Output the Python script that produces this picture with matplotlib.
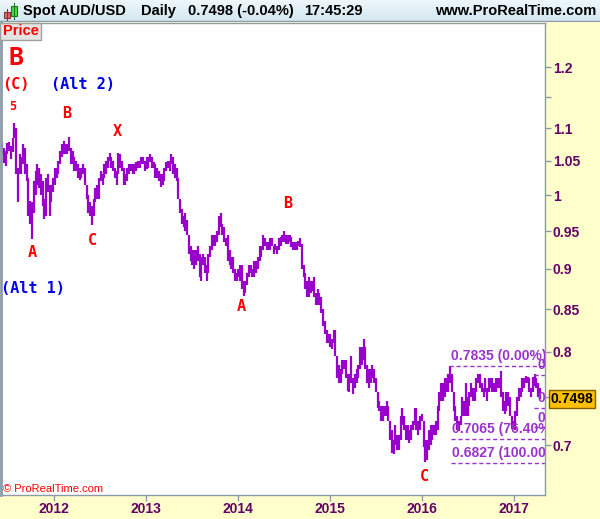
import numpy as np
import pandas as pd
import matplotlib
matplotlib.use("Agg")
import matplotlib.pyplot as plt
from matplotlib.patches import Rectangle
from matplotlib.ticker import FixedLocator, FixedFormatter, NullLocator

# weekly high / low of spot AUD/USD (week ending Friday)
hi_2011 = [1.0775, 1.0700, 1.0650, 1.0765, 1.0780, 1.0720, 1.0850, 1.1080,
           1.1000, 1.0400, 1.0600, 1.0550, 1.0760, 1.0700, 1.0450, 1.0250, 0.9920,
           0.9900, 1.0200, 1.0350, 1.0450, 1.0400, 1.0300, 1.0200, 0.9950,
           1.0250, 1.0300, 1.0150, 1.0150, 1.0250]
lo_2011 = [1.0580, 1.0460, 1.0420, 1.0600, 1.0650, 1.0520, 1.0640, 1.0850,
           1.0300, 0.9900, 1.0300, 1.0300, 1.0450, 1.0300, 1.0200, 0.9700, 0.9600,
           0.9390, 0.9750, 1.0000, 1.0150, 1.0100, 1.0000, 0.9850, 0.9660,
           0.9700, 1.0050, 0.9700, 0.9900, 1.0050]

hi_2012 = [1.0400, 1.0400, 1.0500, 1.0650, 1.0750, 1.0800, 1.0750, 1.0750,
           1.0860, 1.0700, 1.0650, 1.0550, 1.0500, 1.0450, 1.0400, 1.0400, 1.0450,
           1.0400, 1.0150, 1.0000, 0.9900, 0.9850, 0.9950, 1.0100, 1.0150, 1.0250,
           1.0350, 1.0300, 1.0450, 1.0500, 1.0550, 1.0620, 1.0550, 1.0500, 1.0400,
           1.0350, 1.0620, 1.0600, 1.0500, 1.0400, 1.0300, 1.0400, 1.0450,
           1.0450, 1.0450, 1.0450, 1.0480, 1.0500, 1.0500, 1.0550, 1.0550, 1.0500]
lo_2012 = [1.0150, 1.0250, 1.0300, 1.0450, 1.0550, 1.0600, 1.0600, 1.0600,
           1.0650, 1.0450, 1.0450, 1.0350, 1.0350, 1.0250, 1.0220, 1.0250, 1.0300,
           1.0150, 0.9950, 0.9750, 0.9700, 0.9580, 0.9700, 0.9900, 0.9950, 0.9950,
           1.0200, 1.0150, 1.0250, 1.0300, 1.0400, 1.0500, 1.0400, 1.0350, 1.0250,
           1.0150, 1.0300, 1.0400, 1.0350, 1.0150, 1.0150, 1.0200, 1.0300,
           1.0350, 1.0300, 1.0300, 1.0350, 1.0400, 1.0400, 1.0450, 1.0450, 1.0350]

hi_2013 = [1.0550, 1.0550, 1.0600, 1.0550, 1.0480, 1.0450, 1.0400, 1.0350,
           1.0300, 1.0300, 1.0400, 1.0480, 1.0500, 1.0500, 1.0600, 1.0550, 1.0450,
           1.0400, 1.0250, 0.9950, 0.9800, 0.9700, 0.9750, 0.9650, 0.9450, 0.9300,
           0.9250, 0.9250, 0.9250, 0.9300, 0.9200, 0.9150, 0.9200, 0.9150, 0.9050,
           0.9200, 0.9300, 0.9450, 0.9450, 0.9450, 0.9500, 0.9700, 0.9750,
           0.9600, 0.9550, 0.9400, 0.9450, 0.9250, 0.9150, 0.9150, 0.9000, 0.8950]
lo_2013 = [1.0380, 1.0400, 1.0480, 1.0400, 1.0400, 1.0250, 1.0250, 1.0200,
           1.0120, 1.0150, 1.0200, 1.0350, 1.0400, 1.0350, 1.0450, 1.0300, 1.0250,
           1.0200, 0.9950, 0.9750, 0.9600, 0.9550, 0.9500, 0.9450, 0.9200, 0.9100,
           0.9050, 0.9000, 0.9050, 0.9100, 0.8900, 0.8850, 0.9050, 0.8950, 0.8850,
           0.8950, 0.9150, 0.9250, 0.9300, 0.9300, 0.9350, 0.9450, 0.9550,
           0.9450, 0.9350, 0.9300, 0.9100, 0.9050, 0.9000, 0.8950, 0.8850, 0.8850]

hi_2014 = [0.9000, 0.9050, 0.9050, 0.8850, 0.8850, 0.8950, 0.9050, 0.9050,
           0.9000, 0.9100, 0.9100, 0.9150, 0.9300, 0.9300, 0.9450, 0.9400, 0.9350,
           0.9350, 0.9400, 0.9400, 0.9300, 0.9330, 0.9300, 0.9400, 0.9420, 0.9450,
           0.9500, 0.9450, 0.9450, 0.9450, 0.9420, 0.9350, 0.9350, 0.9350, 0.9370,
           0.9400, 0.9330, 0.9050, 0.8950, 0.8850, 0.8900, 0.8850, 0.8850, 0.8900,
           0.8700, 0.8750, 0.8700, 0.8650, 0.8500, 0.8350, 0.8250, 0.8200]
lo_2014 = [0.8900, 0.8850, 0.8750, 0.8660, 0.8700, 0.8800, 0.8900, 0.8950,
           0.8900, 0.8900, 0.8950, 0.9000, 0.9100, 0.9150, 0.9250, 0.9300, 0.9250,
           0.9250, 0.9250, 0.9300, 0.9200, 0.9250, 0.9200, 0.9250, 0.9300, 0.9350,
           0.9350, 0.9330, 0.9330, 0.9350, 0.9280, 0.9250, 0.9250, 0.9250, 0.9300,
           0.9280, 0.9000, 0.8900, 0.8750, 0.8650, 0.8650, 0.8700, 0.8720, 0.8650,
           0.8550, 0.8550, 0.8550, 0.8450, 0.8300, 0.8200, 0.8100, 0.8100]

hi_2015 = [0.8200, 0.8150, 0.8250, 0.8250, 0.7950, 0.7850, 0.7800, 0.7900,
           0.7900, 0.7900, 0.7750, 0.7750, 0.7950, 0.7700, 0.7750, 0.7800, 0.7850,
           0.8050, 0.8050, 0.8150, 0.8050, 0.7850, 0.7800, 0.7800, 0.7850, 0.7800,
           0.7700, 0.7550, 0.7450, 0.7400, 0.7400, 0.7400, 0.7450, 0.7400, 0.7250,
           0.7150, 0.7050, 0.7200, 0.7100, 0.7100, 0.7300, 0.7380, 0.7300, 0.7200,
           0.7200, 0.7150, 0.7200, 0.7250, 0.7380, 0.7380, 0.7250, 0.7300]
lo_2015 = [0.8050, 0.8030, 0.8100, 0.7950, 0.7700, 0.7650, 0.7650, 0.7750,
           0.7800, 0.7700, 0.7560, 0.7550, 0.7650, 0.7530, 0.7600, 0.7650, 0.7700,
           0.7800, 0.7850, 0.7900, 0.7800, 0.7650, 0.7600, 0.7650, 0.7700, 0.7650,
           0.7550, 0.7380, 0.7350, 0.7250, 0.7250, 0.7300, 0.7300, 0.7250, 0.7050,
           0.6920, 0.6910, 0.7000, 0.6950, 0.6950, 0.7050, 0.7200, 0.7150, 0.7050,
           0.7050, 0.7020, 0.7050, 0.7150, 0.7200, 0.7150, 0.7100, 0.7150]

hi_2016 = [0.7320, 0.7250, 0.7050, 0.7050, 0.7150, 0.7200, 0.7200, 0.7200,
           0.7250, 0.7400, 0.7550, 0.7650, 0.7650, 0.7700, 0.7700, 0.7750, 0.7835,
           0.7750, 0.7550, 0.7400, 0.7300, 0.7250, 0.7300, 0.7500, 0.7450, 0.7650,
           0.7500, 0.7550, 0.7650, 0.7600, 0.7600, 0.7700, 0.7750, 0.7750, 0.7650,
           0.7600, 0.7700, 0.7600, 0.7700, 0.7700, 0.7700, 0.7650, 0.7700, 0.7700,
           0.7700, 0.7780, 0.7550, 0.7450, 0.7550, 0.7550, 0.7500, 0.7300, 0.7250]
lo_2016 = [0.7250, 0.6980, 0.6830, 0.6850, 0.6950, 0.7000, 0.7050, 0.7100,
           0.7100, 0.7150, 0.7350, 0.7450, 0.7450, 0.7500, 0.7550, 0.7550, 0.7650,
           0.7550, 0.7350, 0.7250, 0.7150, 0.7145, 0.7200, 0.7300, 0.7300, 0.7300,
           0.7300, 0.7400, 0.7500, 0.7450, 0.7450, 0.7550, 0.7650, 0.7600, 0.7550,
           0.7500, 0.7550, 0.7450, 0.7550, 0.7600, 0.7550, 0.7550, 0.7550, 0.7600,
           0.7600, 0.7500, 0.7350, 0.7320, 0.7350, 0.7400, 0.7300, 0.7160, 0.7160]

hi_2017 = [0.7350, 0.7500, 0.7600, 0.7600, 0.7700, 0.7700, 0.7730, 0.7720,
           0.7700, 0.7600, 0.7720, 0.7750, 0.7700, 0.7650, 0.7600]
lo_2017 = [0.7150, 0.7300, 0.7450, 0.7500, 0.7550, 0.7600, 0.7650, 0.7650,
           0.7550, 0.7500, 0.7550, 0.7620, 0.7600, 0.7500, 0.7480]

highs = hi_2011 + hi_2012 + hi_2013 + hi_2014 + hi_2015 + hi_2016 + hi_2017
lows = lo_2011 + lo_2012 + lo_2013 + lo_2014 + lo_2015 + lo_2016 + lo_2017
dates = pd.date_range("2011-06-10", periods=len(highs), freq="W-FRI")

last_price = "0.7498"
years = [2012, 2013, 2014, 2015, 2016, 2017]
ytick_vals = [1.2, 1.15, 1.1, 1.05, 1.0, 0.95, 0.9, 0.85, 0.8, 0.75, 0.7]
ytick_txt = ["1.2", "", "1.1", "1.05", "1", "0.95", "0.9", "0.85", "0.8", "", "0.7"]

# fibonacci retracement levels (labels are cut by the right edge, as on the chart)
fib_levels = [0.7835, 0.7065, 0.6827]
fib_txt = ["0.7835 (0.00%)", "0.7065 (76.40%", "0.6827 (100.00"]
fib_start = ["2016-04-19", "2016-04-24", "2016-04-24"]
fib2_levels = [0.7735, 0.7380, 0.7180]
fib2_txt = ["0", "0.", "0."]
fib2_start = "2017-03-20"

# elliott wave labels: text, date, price, colour, size
wave_txt = ["B", "(C)", "5", "(Alt 2)", "B", "X", "A", "C", "(Alt 1)", "B", "A", "C"]
wave_date = ["2011-08-04", "2011-08-04", "2011-07-24", "2012-04-26", "2012-02-23",
             "2012-09-08", "2011-10-07", "2012-06-01", "2011-10-09", "2014-07-16",
             "2014-01-14", "2016-01-12"]
wave_price = [1.216, 1.170, 1.135, 1.1715, 1.124, 1.0956, 0.9219, 0.9378, 0.8757,
              0.9887, 0.8536, 0.6698]
wave_col = ["#FF0000", "#FF0000", "#FF0000", "#0000EE", "#FF0000", "#FF0000",
            "#FF0000", "#FF0000", "#0000EE", "#FF0000", "#FF0000", "#FF0000"]
wave_size = [18, 11, 8.5, 11, 11, 11, 11, 11, 11, 11, 11, 11]

PURPLE = "#9900CC"
FIBCOL = "#9933CC"
TXTCOL = "#660066"
GREY = "#8C9BAA"

W, H = 600, 519
fig = plt.figure(figsize=(6, 5.19), dpi=100, facecolor="#FFFFCC")

def fx(px):
    return px / W

def fy(py):
    return 1 - py / H

ax = fig.add_axes([fx(1), fy(495), fx(545) - fx(1), fy(23) - fy(495)])
ax.set_facecolor("white")
ax.set_yscale("log")

ax.vlines(dates, lows, highs, color=PURPLE, lw=1.6)

ax.set_ylim(0.652, 1.278)
ax.set_xlim(pd.Timestamp("2011-06-06"), pd.Timestamp("2017-05-04"))

# right price axis
ax.yaxis.tick_right()
ax.yaxis.set_major_locator(FixedLocator(ytick_vals))
ax.yaxis.set_major_formatter(FixedFormatter(ytick_txt))
ax.yaxis.set_minor_locator(NullLocator())
ax.tick_params(axis="y", direction="out", length=4.5, width=1, color=GREY,
               labelcolor=TXTCOL, labelsize=10, pad=1)

# time axis
ax.set_xticks([pd.Timestamp(f"{y}-01-01") for y in years])
ax.set_xticklabels([str(y) for y in years])
ax.tick_params(axis="x", direction="out", length=4, width=1, color=GREY,
               labelcolor=TXTCOL, labelsize=10, pad=1)
for t in ax.get_xticklabels() + ax.get_yticklabels():
    t.set_fontweight("bold")
    t.set_fontfamily("Liberation Sans")
for s in ax.spines.values():
    s.set_color(GREY)
    s.set_linewidth(1)
ax.spines["left"].set_linewidth(2)

# fibonacci lines
xr = pd.Timestamp("2017-05-04")
for lev, txt, st in zip(fib_levels, fib_txt, fib_start):
    ax.hlines(lev, pd.Timestamp(st), xr, colors=FIBCOL, linestyles=(0, (3, 2)), lw=1)
    ax.annotate(txt, (pd.Timestamp(st), lev), xytext=(1, 2), textcoords="offset points",
                ha="left", va="bottom", color=FIBCOL, fontsize=10, fontweight="bold",
                family="Liberation Sans", annotation_clip=False, clip_on=True)
for lev, txt in zip(fib2_levels, fib2_txt):
    ax.hlines(lev, pd.Timestamp(fib2_start), xr, colors=FIBCOL, linestyles=(0, (3, 2)), lw=1)
    ax.annotate(txt, (pd.Timestamp(fib2_start), lev), xytext=(3, 2),
                textcoords="offset points", ha="left", va="bottom", color=FIBCOL,
                fontsize=10, fontweight="bold", family="Liberation Sans",
                annotation_clip=False, clip_on=True)

# wave labels
for txt, d, p, c, sz in zip(wave_txt, wave_date, wave_price, wave_col, wave_size):
    ax.text(pd.Timestamp(d), p, txt, ha="center", va="center", color=c, fontsize=sz,
            fontweight="bold", family="DejaVu Sans Mono")

# header bar
hax = fig.add_axes([0, fy(22), 1, 22 / H])
grad = np.linspace(0, 1, 50).reshape(-1, 1)
hax.imshow(grad, extent=[0, W, 22, 0], aspect="auto",
           cmap=matplotlib.colors.LinearSegmentedColormap.from_list("h", ["#EEF7FB", "#D2E6EF"]))
hax.set_xlim(0, W)
hax.set_ylim(22, 0)
hax.axis("off")
hax.plot([0, W], [21.5, 21.5], color=GREY, lw=1)
hax.plot([6.5, 6.5], [9, 20], color="#883333", lw=0.8)
hax.add_patch(Rectangle((3.5, 12), 6, 6, fc="#E06666", ec="#883333", lw=0.8))
hax.plot([14, 14], [3, 19], color="#227722", lw=0.8)
hax.add_patch(Rectangle((11, 6), 6, 10, fc="#44DD44", ec="#227722", lw=0.8))
for x, s in [(23, "Spot AUD/USD"), (141, "Daily"), (188, "0.7498 (-0.04%)"), (304, "17:45:29")]:
    hax.text(x, 11.5, s, ha="left", va="center", fontsize=10.5, fontweight="bold",
             family="Liberation Sans", color="black")
hax.text(596, 11.5, "www.ProRealTime.com", ha="right", va="center", fontsize=10.5,
         fontweight="bold", family="Liberation Sans", color="black")

# "Price" tag
fig.patches.append(Rectangle((0, fy(40)), fx(41), 17 / H, transform=fig.transFigure,
                             fc="#E4E4E4", ec="#A0A0A0", lw=1, figure=fig))
fig.text(fx(21), fy(31), "Price", ha="center", va="center", color="#FF0000",
         fontsize=10.5, fontweight="bold", family="Liberation Sans")

fig.text(fx(3), fy(489), "\u00a9 ProRealTime.com", ha="left", va="center",
         color="#FF0000", fontsize=8, family="Liberation Sans")

# last price box
fig.text(fx(572), fy(399), last_price, ha="center", va="center", color="black",
         fontsize=10, fontweight="bold", family="Liberation Sans",
         bbox=dict(boxstyle="square,pad=0.15", fc="#FFC000", ec="#806000", lw=1))

fig.savefig("out.png", dpi=100, facecolor=fig.get_facecolor())
